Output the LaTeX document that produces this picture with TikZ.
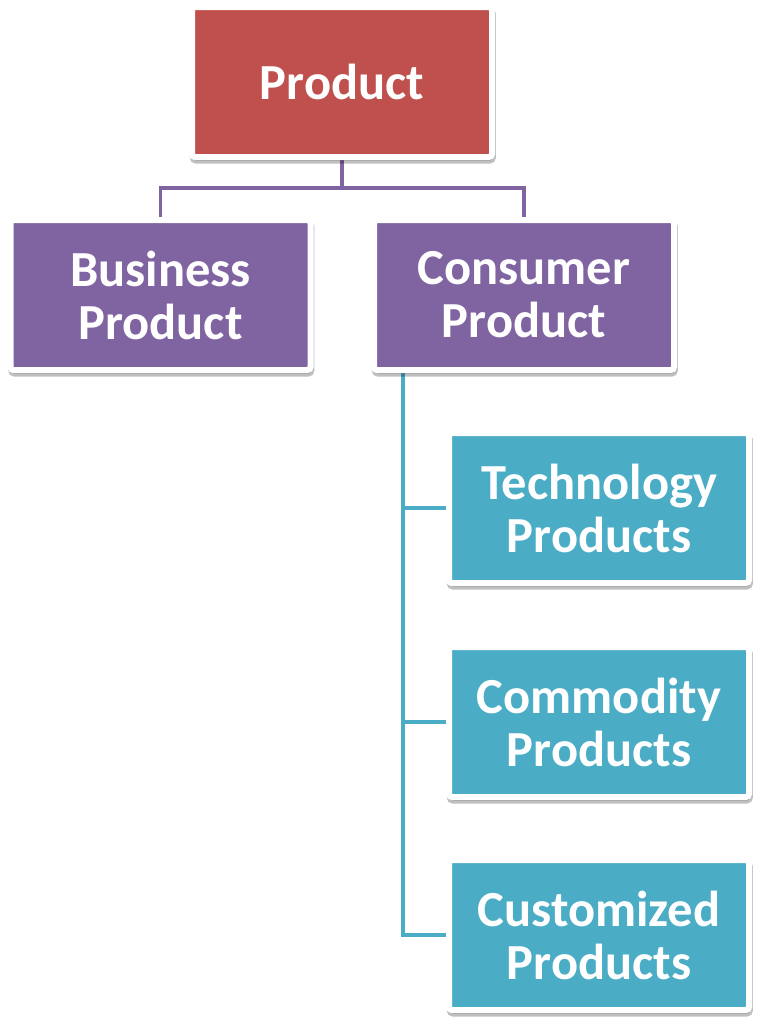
\documentclass[tikz,border=0pt]{standalone}
\usepackage{fontspec}
\setmainfont{Carlito}
\usepackage{tikz}
\usetikzlibrary{shadows,backgrounds}

\definecolor{prodred}{HTML}{C0504D}
\definecolor{prodpurple}{HTML}{8064A2}
\definecolor{prodteal}{HTML}{4BACC6}

\tikzset{
  catbox/.style={draw=white, line width=6pt, rounded corners=3pt,
    minimum width=300pt, minimum height=150pt, inner sep=0pt,
    text=white, align=center,
    font=\fontsize{50.5}{53}\selectfont\bfseries,
    drop shadow={draw=black, fill=black, line width=6pt,
      shadow xshift=0.8pt, shadow yshift=-3.5pt, opacity=0.25}},
  purpleline/.style={draw=prodpurple, line width=3.5pt},
  tealline/.style={draw=prodteal, line width=3.5pt}
}

\begin{document}
\begin{tikzpicture}[x=1pt, y=-1pt]
  \useasboundingbox (0,0) rectangle (768,1029);
  % top level
  \node[catbox, fill=prodred] (prod) at (342,82) {Product};
  % second level
  \node[catbox, fill=prodpurple] (bus) at (160.5,295) {Business\\Product};
  \node[catbox, fill=prodpurple] (con) at (524,295) {Consumer\\Product};
  % consumer branches
  \node[catbox, fill=prodteal] (tech) at (599,508) {Technology\\Products};
  \node[catbox, fill=prodteal] (comm) at (599,722) {Commodity\\Products};
  \node[catbox, fill=prodteal] (cust) at (599,935) {Customized\\Products};
  \begin{scope}[on background layer]
    \coordinate (split) at (342,188);
    \draw[purpleline] (prod.south) -- (split) -| (bus.north);
    \draw[purpleline] (split) -| (con.north);
    \coordinate (trunk) at (403,370);
    \foreach \n in {tech,comm,cust}
      \draw[tealline] (trunk) |- (\n.west);
  \end{scope}
\end{tikzpicture}
\end{document}
